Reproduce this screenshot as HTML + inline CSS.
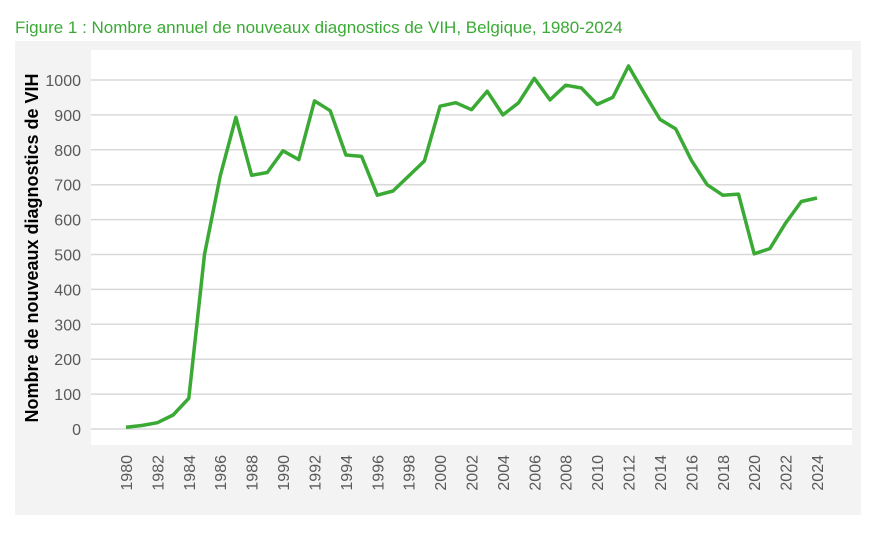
<!DOCTYPE html>
<html><head><meta charset="utf-8"><style>
body{margin:0;background:#fff;width:878px;height:548px;overflow:hidden;font-family:"Liberation Sans",sans-serif}
</style></head><body>
<svg width="878" height="548" xmlns="http://www.w3.org/2000/svg">
<text x="15" y="33" fill="#3aaa35" font-size="17">Figure 1 : Nombre annuel de nouveaux diagnostics de VIH, Belgique, 1980-2024</text>
<rect x="15" y="41" width="846" height="474" fill="#f3f3f3"/>
<rect x="91" y="50" width="761" height="395" fill="#fff"/>
<g id="grid"></g><g id="yt"></g><g id="xt"></g>
<text transform="translate(38,248) rotate(-90)" text-anchor="middle" font-size="18" font-weight="bold" fill="#000">Nombre de nouveaux diagnostics de VIH</text>
<path id="line" fill="none" stroke="#3aaa35" stroke-width="3.5" stroke-linejoin="round"/>
</svg>
<script>
const years=[];for(let y=1980;y<=2024;y++)years.push(y);
const values=[5,10,18,40,88,500,725,893,727,735,797,772,940,912,785,781,670,682,725,768,925,935,915,968,900,935,1005,943,985,977,930,950,1040,962,887,860,770,700,670,673,502,517,590,652,662];
const yTicks=[0,100,200,300,400,500,600,700,800,900,1000];
const xTickLabels=[1980,1982,1984,1986,1988,1990,1992,1994,1996,1998,2000,2002,2004,2006,2008,2010,2012,2014,2016,2018,2020,2022,2024];
const NS="http://www.w3.org/2000/svg";
const xs=y=>126+(y-1980)*(817-126)/44;
const ys=v=>429-v*(429-80)/1000;
const g=document.getElementById('grid'),yt=document.getElementById('yt'),xt=document.getElementById('xt');
yTicks.forEach(t=>{
const l=document.createElementNS(NS,'line');
l.setAttribute('x1',91);l.setAttribute('x2',852);l.setAttribute('y1',ys(t));l.setAttribute('y2',ys(t));
l.setAttribute('stroke','#d9d9d9');l.setAttribute('stroke-width','1.5');


g.appendChild(l);
const tx=document.createElementNS(NS,'text');
tx.setAttribute('x',81);tx.setAttribute('y',ys(t)+6);tx.setAttribute('text-anchor','end');
tx.setAttribute('font-size','16');tx.setAttribute('fill','#595959');tx.textContent=t;


yt.appendChild(tx);});
xTickLabels.forEach(y=>{
const tx=document.createElementNS(NS,'text');
tx.setAttribute('transform',`translate(${xs(y)+6},455) rotate(-90)`);
tx.setAttribute('text-anchor','end');tx.setAttribute('font-size','16');tx.setAttribute('fill','#595959');
tx.textContent=y;


xt.appendChild(tx);});
document.getElementById('line').setAttribute('d',values.map((v,i)=>(i?'L':'M')+xs(years[i]).toFixed(1)+' '+ys(v).toFixed(1)).join(' '));
</script>
</body></html>
